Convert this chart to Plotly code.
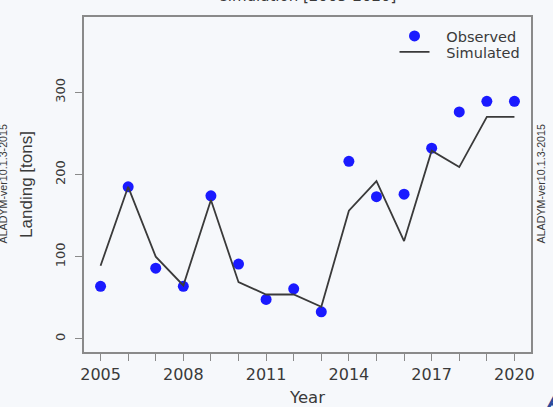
import plotly.graph_objects as go

years = list(range(2005, 2021))
observed = [64, 185, 86, 64, 174, 91, 48, 61, 33, 216, 173, 176, 232, 276, 289, 289]
simulated = [89, 185, 100, 65, 169, 69, 54, 54, 39, 156, 192, 119, 229, 209, 270, 270]
xtick_vals = years
xtick_text = [str(y) if (y - 2005) % 3 == 0 else "" for y in years]
ytick_vals = [0, 100, 200, 300]

BG = "#f6f8fb"
AX = "#8a8a8a"
TXT = "#3a3a3a"
PAD = "\u2002\u00a0"

fig = go.Figure()
fig.add_trace(go.Scatter(x=years, y=observed, mode="markers", name=PAD + "Observed",
                         legend="legend",
                         marker=dict(color="#1a1aff", size=11, line=dict(width=0))))
fig.add_trace(go.Scatter(x=years, y=simulated, mode="lines", name=PAD + "Simulated",
                         legend="legend2",
                         line=dict(color="#3a3a3a", width=1.8)))

leg_common = dict(xanchor="left", yanchor="middle", bgcolor="rgba(0,0,0,0)",
                  font=dict(size=14.5, color=TXT), itemwidth=30)
leg_x = (394.5 - 84) / 447

fig.update_layout(
    width=553, height=407,
    margin=dict(l=84, r=22, t=17, b=55),
    paper_bgcolor=BG, plot_bgcolor=BG,
    font=dict(family="DejaVu Sans", color=TXT),
    showlegend=True,
    legend=dict(x=leg_x, y=(352 - 36) / 335, **leg_common),
    legend2=dict(x=leg_x, y=(352 - 52) / 335, **leg_common),
    xaxis=dict(range=[2004.4, 2020.6], tickvals=xtick_vals, ticktext=xtick_text,
               automargin=False,
               showgrid=False, zeroline=False, showline=True, mirror=True,
               linecolor=AX, linewidth=1.5, ticks="outside", ticklen=7,
               tickcolor=AX, tickwidth=1.2, tickfont=dict(size=16, color=TXT),
               title=dict(text="Year", font=dict(size=16.5, color=TXT), standoff=10)),
    yaxis=dict(range=[-15.9, 391.5], tickvals=ytick_vals, tickangle=-90,
               automargin=False, ticklabelstandoff=5,
               showgrid=False, zeroline=False, showline=True, mirror=True,
               linecolor=AX, linewidth=1.5, ticks="outside", ticklen=7,
               tickcolor=AX, tickwidth=1.2, tickfont=dict(size=13, color=TXT),
               title=dict(text="Landing [tons]", font=dict(family="Liberation Sans", size=17, color=TXT), standoff=16)),
)

fig.add_annotation(text="simulation [2005-2020]", xref="paper", yref="paper",
                   x=0.5, y=1.031, xanchor="center", yanchor="bottom", showarrow=False,
                   font=dict(size=15, color=TXT))
fig.add_annotation(text="ALADYM-ver10.1.3-2015", xref="paper", yref="paper",
                   x=1 + (540 - 531) / 447, y=0.5, xanchor="center", yanchor="middle",
                   textangle=-90, showarrow=False,
                   font=dict(family="Liberation Sans", size=10.7, color=TXT))
fig.add_annotation(text="ALADYM-ver10.1.3-2015", xref="paper", yref="paper",
                   x=(2 - 84) / 447, y=0.5, xanchor="center", yanchor="middle",
                   textangle=-90, showarrow=False,
                   font=dict(family="Liberation Sans", size=10.7, color=TXT))
fig.add_annotation(text="<b><i>A</i></b>", xref="paper", yref="paper",
                   x=(543 - 84) / 447, y=(352 - 386) / 335, xanchor="left", yanchor="top",
                   showarrow=False, font=dict(family="Liberation Sans", size=24, color="#2c4a9a"))

fig.write_html("out.html")
